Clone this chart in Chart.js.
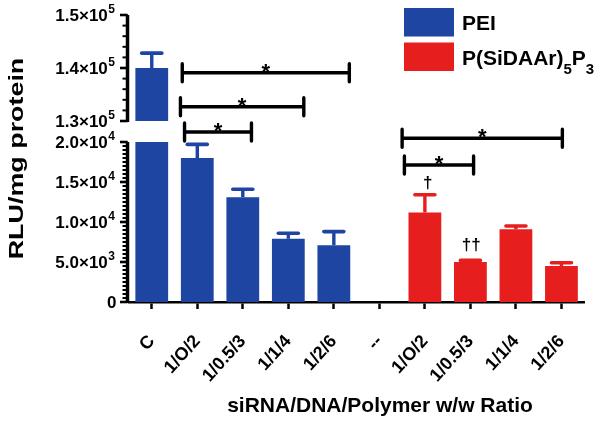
<!DOCTYPE html>
<html>
<head>
<meta charset="utf-8">
<script src="https://cdn.jsdelivr.net/npm/chart.js@4.4.1/dist/chart.umd.min.js"></script>
<style>
  html, body { margin: 0; padding: 0; background: #fff; }
  #wrap { width: 600px; height: 421px; position: relative; }
</style>
</head>
<body>
<div id="wrap"><canvas id="chart"></canvas></div>
<script>
const categories = ["C", "1/O/2", "1/0.5/3", "1/1/4", "1/2/6", "--", "1/O/2", "1/0.5/3", "1/1/4", "1/2/6"];
const peiValues = [140000, 18000, 13100, 7900, 7100, null, null, null, null, null];
const peiErrors = [2800, 1700, 1000, 700, 1700, null, null, null, null, null];
const polyValues = [null, null, null, null, null, null, 11200, 5000, 9100, 4500];
const polyErrors = [null, null, null, null, null, null, 2200, 200, 400, 400];
const legendLabels = ["PEI", "P(SiDAAr)_5P_3"];
const upperTicks = [130000, 140000, 150000];
const lowerTicks = [0, 5000, 10000, 15000, 20000];

// significance brackets: from/to in category units, y in the units of the given axis
const brackets = [
  { from: 0.67, to: 4.34, y: 139100, axis: "yTop" },
  { from: 0.63, to: 3.34, y: 132700, axis: "yTop" },
  { from: 0.72, to: 2.19, y: 21250, axis: "y" },
  { from: 5.5, to: 9.02, y: 20460, axis: "y" },
  { from: 5.55, to: 7.07, y: 17125, axis: "y" }
];
const daggers = [
  { index: 6.06, y: 14875, text: "\u2020" },
  { index: 7.02, y: 7040, text: "\u2020\u2020" }
];

const FONT = '"Liberation Sans", Arial, Helvetica, sans-serif';
const BLUE = "#1d45a1";
const RED = "#e61e1e";

function drawPowerLabel(ctx, value, xRight, y) {
  ctx.textBaseline = "middle";
  ctx.textAlign = "right";
  if (value === 0) {
    ctx.font = `bold 17px ${FONT}`;
    ctx.fillText("0", xRight + 1.5, y + 1);
    return;
  }
  const exp = Math.floor(Math.log10(value));
  const mant = (value / Math.pow(10, exp)).toFixed(1);
  ctx.font = `bold 12px ${FONT}`;
  const expText = String(exp);
  const expW = ctx.measureText(expText).width;
  ctx.fillText(expText, xRight, y - 5);
  ctx.font = `bold 17px ${FONT}`;
  ctx.fillText(mant + "\u00d710", xRight - expW - 0.5, y + 1);
}

function drawSubText(ctx, text, x, y, size) {
  // "_d" marks a subscript character
  let cx = x;
  for (let i = 0; i < text.length; i++) {
    if (text[i] === "_" && i + 1 < text.length) {
      ctx.font = `bold ${Math.round(size * 0.7)}px ${FONT}`;
      ctx.fillText(text[i + 1], cx, y + size * 0.45);
      cx += ctx.measureText(text[i + 1]).width;
      i++;
    } else {
      ctx.font = `bold ${size}px ${FONT}`;
      ctx.fillText(text[i], cx, y);
      cx += ctx.measureText(text[i]).width;
    }
  }
}

const decorPlugin = {
  id: "decor",
  afterDraw(chart) {
    const ctx = chart.ctx;
    const x = chart.scales.x;
    const yLow = chart.scales.y;
    const yTop = chart.scales.yTop;
    ctx.save();
    ctx.fillStyle = "#000";
    ctx.strokeStyle = "#000";

    // y axis lines, major and minor ticks
    const axisX = chart.chartArea.left - 1.5;
    const drawAxis = (scale, majors, step) => {
      ctx.lineCap = "butt";
      ctx.lineWidth = 3.5;
      ctx.beginPath();
      ctx.moveTo(axisX, scale.getPixelForValue(scale.max));
      ctx.lineTo(axisX, scale.getPixelForValue(scale.min) + 1);
      ctx.stroke();
      ctx.lineWidth = 2;
      for (let v = scale.min; v <= scale.max; v += step) {
        const py = scale.getPixelForValue(v);
        ctx.beginPath();
        ctx.moveTo(axisX, py);
        ctx.lineTo(axisX - 5, py);
        ctx.stroke();
      }
      ctx.lineWidth = 2.6;
      majors.forEach(t => {
        const py = scale.getPixelForValue(t.value);
        ctx.beginPath();
        ctx.moveTo(axisX, py);
        ctx.lineTo(axisX - 7.5, py);
        ctx.stroke();
        drawPowerLabel(ctx, t.value, 115, py);
      });
    };
    drawAxis(yTop, yTop.ticks, 2000);
    drawAxis(yLow, yLow.ticks, 500);

    // error bars
    chart.data.datasets.forEach((ds, di) => {
      if (!ds.errors) return;
      const meta = chart.getDatasetMeta(di);
      const ys = chart.scales[ds.yAxisID];
      ctx.strokeStyle = ds.backgroundColor;
      ds.data.forEach((v, i) => {
        const e = ds.errors[i];
        if (v === null || e === null || v > ys.max) return;
        const px = meta.data[i].x;
        const y0 = ys.getPixelForValue(v);
        const y1 = ys.getPixelForValue(v + e);
        ctx.lineCap = "butt";
        ctx.lineWidth = 3.4;
        ctx.beginPath();
        ctx.moveTo(px, y0);
        ctx.lineTo(px, y1);
        ctx.stroke();
        ctx.lineCap = "round";
        ctx.lineWidth = 3.6;
        ctx.beginPath();
        ctx.moveTo(px - 10, y1);
        ctx.lineTo(px + 10, y1);
        ctx.stroke();
      });
    });

    // significance brackets
    ctx.strokeStyle = "#000";
    ctx.lineWidth = 3.4;
    ctx.lineCap = "round";
    brackets.forEach(b => {
      const s = chart.scales[b.axis];
      const py = s.getPixelForValue(b.y);
      const x0 = x.getPixelForValue(b.from);
      const x1 = x.getPixelForValue(b.to);
      ctx.beginPath();
      ctx.moveTo(x0, py);
      ctx.lineTo(x1, py);
      ctx.moveTo(x0, py - 9);
      ctx.lineTo(x0, py + 9);
      ctx.moveTo(x1, py - 9);
      ctx.lineTo(x1, py + 9);
      ctx.stroke();
      ctx.font = `bold 22px ${FONT}`;
      ctx.textAlign = "center";
      ctx.textBaseline = "alphabetic";
      ctx.fillText("*", (x0 + x1) / 2, py + 6);
    });

    // daggers
    ctx.font = `bold 17px ${FONT}`;
    ctx.textAlign = "center";
    ctx.textBaseline = "middle";
    daggers.forEach(d => {
      ctx.fillText(d.text, x.getPixelForValue(d.index), yLow.getPixelForValue(d.y));
    });

    // legend
    const colors = [BLUE, RED];
    legendLabels.forEach((label, i) => {
      const top = 8 + i * 34.5;
      ctx.fillStyle = colors[i];
      ctx.fillRect(404, top, 50, 28.5);
      ctx.fillStyle = "#000";
      ctx.textAlign = "left";
      ctx.textBaseline = "alphabetic";
      drawSubText(ctx, label, 462, top + 22, 21);
    });

    // axis titles
    ctx.font = `bold 21px ${FONT}`;
    ctx.textAlign = "center";
    ctx.textBaseline = "alphabetic";
    ctx.fillText("siRNA/DNA/Polymer w/w Ratio", 380, 412);
    ctx.save();
    ctx.translate(23, 158.5);
    ctx.rotate(-Math.PI / 2);
    ctx.scale(1.28, 1);
    ctx.fillText("RLU/mg protein", 0, 0);
    ctx.restore();

    ctx.restore();
  }
};

const yBase = {
  type: "linear",
  position: "left",
  stack: "v",
  grid: { display: false },
  border: { display: false },
  ticks: { display: false },
  afterFit: s => { s.width = 129; }
};

new Chart(document.getElementById("chart"), {
  type: "bar",
  data: {
    labels: categories,
    datasets: [
      { label: "PEI", data: peiValues, errors: peiErrors, yAxisID: "y", backgroundColor: BLUE, clip: 0 },
      { label: "P(SiDAAr)\u2085P\u2083", data: polyValues, errors: polyErrors, yAxisID: "y", backgroundColor: RED, clip: 0 },
      { label: "PEI (upper)", data: peiValues.map((v, i) => (i === 0 ? v : null)), errors: peiErrors, yAxisID: "yTop", backgroundColor: BLUE, clip: 0 }
    ]
  },
  options: {
    responsive: true,
    maintainAspectRatio: false,
    animation: false,
    layout: { padding: { top: 15, right: 10, left: 0, bottom: 0 } },
    datasets: { bar: { grouped: false, barPercentage: 0.72, categoryPercentage: 1, borderWidth: 0 } },
    plugins: { legend: { display: false }, tooltip: { enabled: false } },
    scales: {
      x: {
        type: "category",
        grid: { display: true, offset: false, drawOnChartArea: false, drawTicks: true, tickLength: 7, tickWidth: 2.5, tickColor: "#000" },
        border: { color: "#000", width: 2.5 },
        ticks: { color: "#000", font: { family: FONT, size: 18, weight: "bold" }, minRotation: 48, maxRotation: 48, padding: 22, autoSkip: false },
        afterFit: s => { s.height = 119; }
      },
      y: Object.assign({}, yBase, {
        stackWeight: 160, min: 0, max: 20000,
        afterBuildTicks: s => { s.ticks = lowerTicks.map(v => ({ value: v })); }
      }),
      yGap: Object.assign({}, yBase, { stackWeight: 21 }),
      yTop: Object.assign({}, yBase, {
        stackWeight: 106, min: 130000, max: 150000,
        afterBuildTicks: s => { s.ticks = upperTicks.map(v => ({ value: v })); }
      })
    }
  },
  plugins: [decorPlugin]
});
</script>
</body>
</html>
